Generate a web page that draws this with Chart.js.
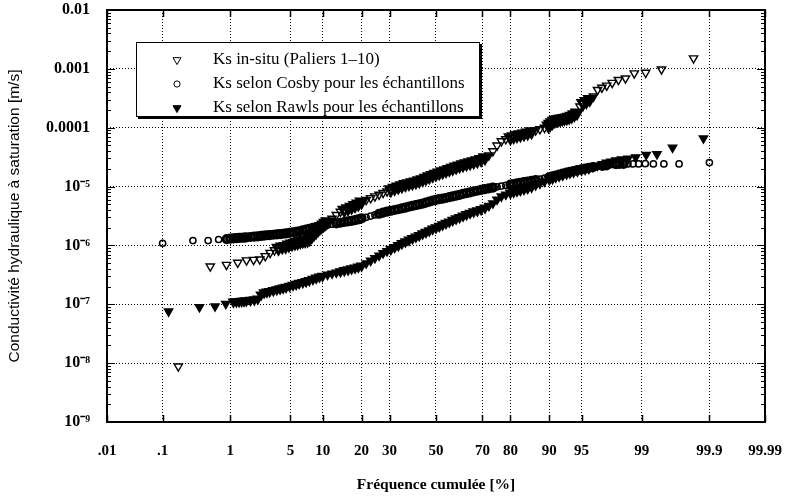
<!DOCTYPE html>
<html><head><meta charset="utf-8">
<script src="https://cdn.jsdelivr.net/npm/chart.js@4.4.0/dist/chart.umd.min.js"></script>
<style>html,body{margin:0;padding:0;background:#fff}#wrap{width:787px;height:500px}</style>
</head><body><div id="wrap"><canvas id="c" width="787" height="500"></canvas></div>
<script>
// ---- axis ticks ----
const xTickPct = [0.01,0.1,1,5,10,20,30,50,70,80,90,95,99,99.9,99.99];
const xTickLabels = ['.01','.1','1','5','10','20','30','50','70','80','90','95','99','99.9','99.99'];
const yTickValues = [1e-9,1e-8,1e-7,1e-6,1e-5,1e-4,1e-3,1e-2];
const yTickLabels = ['10\u207B\u2079','10\u207B\u2078','10\u207B\u2077','10\u207B\u2076','10\u207B\u2075','0.0001','0.001','0.01'];
const seriesLabels = ['Ks in-situ (Paliers 1\u201310)','Ks selon Cosby pour les \u00e9chantillons','Ks selon Rawls pour les \u00e9chantillons'];

// ---- series: cumulative frequency [%] and Ks [m/s] ----
const insituPct = [0.179,0.536,0.893,1.25,1.61,1.96,2.32,2.68,3.04,3.39,3.75,4.11,4.46,4.82,5.18,5.54,5.89,6.25,6.61,6.96,7.32,7.68,8.04,8.39,8.75,9.11,9.46,9.82,10.2,10.6,11,12,13,14,15,16,17,18,19,20,21.5,23,24.5,26,27.5,29,30.5,32,33.5,35,36.5,38,39.5,41,42.5,44,45.5,47,48.5,50,51.5,53,54.5,56,57.5,59,60.5,62,63.5,65,66.5,68,69.5,71,72.5,74,75.5,77,78.5,80,81,82,83,84,85,86,87,88,89,89.82,90.18,90.54,90.89,91.25,91.61,91.96,92.32,92.68,93.04,93.39,93.75,94.11,94.46,94.82,95.18,95.54,95.89,96.25,96.61,96.96,97.32,97.68,98.04,98.39,98.75,99.11,99.46,99.82];
const insituK = [8.8e-9,4.4e-7,4.7e-7,5.1e-7,5.6e-7,5.7e-7,5.8e-7,6.6e-7,7.5e-7,8.3e-7,9.0e-7,9.5e-7,9.7e-7,1.02e-6,1.07e-6,1.10e-6,1.13e-6,1.17e-6,1.20e-6,1.22e-6,1.24e-6,1.30e-6,1.45e-6,1.58e-6,1.70e-6,1.85e-6,2.00e-6,2.12e-6,2.25e-6,2.40e-6,2.55e-6,2.85e-6,3.30e-6,3.75e-6,4.00e-6,4.25e-6,4.50e-6,4.80e-6,5.10e-6,5.50e-6,5.95e-6,6.40e-6,6.85e-6,7.30e-6,7.80e-6,8.30e-6,8.90e-6,9.40e-6,9.90e-6,1.04e-5,1.09e-5,1.13e-5,1.17e-5,1.21e-5,1.26e-5,1.32e-5,1.40e-5,1.48e-5,1.56e-5,1.64e-5,1.72e-5,1.80e-5,1.88e-5,1.97e-5,2.06e-5,2.16e-5,2.26e-5,2.36e-5,2.46e-5,2.56e-5,2.66e-5,2.76e-5,2.90e-5,3.10e-5,3.40e-5,4.00e-5,5.00e-5,5.90e-5,6.40e-5,6.80e-5,7.10e-5,7.40e-5,7.65e-5,7.90e-5,8.20e-5,8.60e-5,9.00e-5,9.50e-5,1.00e-4,1.08e-4,1.15e-4,1.22e-4,1.30e-4,1.35e-4,1.38e-4,1.40e-4,1.42e-4,1.45e-4,1.48e-4,1.52e-4,1.58e-4,1.68e-4,1.80e-4,2.30e-4,2.60e-4,2.80e-4,3.05e-4,3.40e-4,4.40e-4,4.80e-4,5.20e-4,5.80e-4,6.50e-4,6.90e-4,8.40e-4,8.60e-4,9.80e-4,1.51e-3];

const cosbyPct = [0.1,0.3,0.5,0.7,0.9,1.0,1.1,1.2,1.3,1.4,1.5,1.6,1.8,2.0,2.2,2.4,2.6,2.8,3.0,3.3,3.6,3.9,4.2,4.5,4.9,5.3,5.7,6.1,6.6,7.1,7.6,8.2,8.8,9.4,10,11,12,13,14,15,16,17,18,19,20,21.5,23,24.5,26,27.5,29,30.5,32,33.5,35,36.5,38,39.5,41,42.5,44,45.5,47,48.5,50,51.5,53,54.5,56,57.5,59,60.5,62,63.5,65,66.5,68,69.5,71,72.5,74,75.5,77,78.5,80,81,82,83,84,85,86,87,88,89,90,90.6,91.2,91.8,92.4,93,93.5,94,94.5,95,95.4,95.8,96.2,96.6,97,97.3,97.6,97.9,98.1,98.3,98.5,98.7,98.9,99.1,99.3,99.5,99.7,99.9];
const cosbyK = [1.09e-6,1.21e-6,1.21e-6,1.26e-6,1.28e-6,1.30e-6,1.32e-6,1.33e-6,1.34e-6,1.35e-6,1.36e-6,1.37e-6,1.39e-6,1.41e-6,1.43e-6,1.45e-6,1.47e-6,1.49e-6,1.50e-6,1.52e-6,1.54e-6,1.56e-6,1.58e-6,1.60e-6,1.63e-6,1.66e-6,1.70e-6,1.74e-6,1.80e-6,1.86e-6,1.91e-6,1.98e-6,2.05e-6,2.10e-6,2.15e-6,2.22e-6,2.30e-6,2.37e-6,2.43e-6,2.50e-6,2.56e-6,2.62e-6,2.70e-6,2.78e-6,2.88e-6,3.00e-6,3.15e-6,3.30e-6,3.45e-6,3.60e-6,3.75e-6,3.88e-6,4.00e-6,4.12e-6,4.25e-6,4.40e-6,4.55e-6,4.70e-6,4.85e-6,5.00e-6,5.15e-6,5.35e-6,5.55e-6,5.75e-6,5.95e-6,6.10e-6,6.25e-6,6.40e-6,6.60e-6,6.80e-6,7.00e-6,7.25e-6,7.50e-6,7.75e-6,8.00e-6,8.25e-6,8.50e-6,8.80e-6,9.05e-6,9.30e-6,9.60e-6,9.90e-6,1.02e-5,1.05e-5,1.08e-5,1.10e-5,1.13e-5,1.16e-5,1.19e-5,1.22e-5,1.25e-5,1.29e-5,1.34e-5,1.39e-5,1.45e-5,1.49e-5,1.54e-5,1.60e-5,1.66e-5,1.72e-5,1.78e-5,1.84e-5,1.90e-5,1.96e-5,2.02e-5,2.08e-5,2.14e-5,2.20e-5,2.25e-5,2.30e-5,2.35e-5,2.40e-5,2.43e-5,2.43e-5,2.43e-5,2.43e-5,2.43e-5,2.45e-5,2.43e-5,2.43e-5,2.43e-5,2.56e-5];

const rawlsPct = [0.125,0.375,0.625,0.875,1.1,1.2,1.3,1.4,1.5,1.6,1.8,2.0,2.2,2.4,2.6,2.8,3.0,3.3,3.6,3.9,4.2,4.5,4.9,5.3,5.7,6.1,6.6,7.1,7.6,8.2,8.8,9.4,10,11,12,13,14,15,16,17,18,19,20,21.5,23,24.5,26,27.5,29,30.5,32,33.5,35,36.5,38,39.5,41,42.5,44,45.5,47,48.5,50,51.5,53,54.5,56,57.5,59,60.5,62,63.5,65,66.5,68,69.5,71,72.5,74,75.5,77,78.5,80,81,82,83,84,85,86,87,88,89,90,90.6,91.2,91.8,92.4,93,93.5,94,94.5,95,95.4,95.8,96.2,96.6,97,97.3,97.6,97.9,98.2,98.5,98.8,99.125,99.375,99.625,99.875];
const rawlsK = [7.55e-8,8.95e-8,9.2e-8,1.02e-7,1.10e-7,1.11e-7,1.12e-7,1.13e-7,1.14e-7,1.15e-7,1.17e-7,1.20e-7,1.24e-7,1.45e-7,1.58e-7,1.62e-7,1.66e-7,1.72e-7,1.78e-7,1.84e-7,1.90e-7,1.96e-7,2.04e-7,2.12e-7,2.20e-7,2.28e-7,2.36e-7,2.45e-7,2.55e-7,2.68e-7,2.80e-7,2.93e-7,3.02e-7,3.18e-7,3.32e-7,3.46e-7,3.60e-7,3.75e-7,3.88e-7,4.02e-7,4.15e-7,4.30e-7,4.50e-7,4.95e-7,5.50e-7,6.10e-7,6.70e-7,7.40e-7,8.00e-7,8.65e-7,9.30e-7,1.00e-6,1.08e-6,1.16e-6,1.24e-6,1.32e-6,1.40e-6,1.48e-6,1.58e-6,1.68e-6,1.78e-6,1.90e-6,2.00e-6,2.12e-6,2.25e-6,2.38e-6,2.52e-6,2.68e-6,2.85e-6,3.00e-6,3.18e-6,3.36e-6,3.55e-6,3.75e-6,3.90e-6,4.10e-6,4.35e-6,4.70e-6,5.20e-6,6.00e-6,6.80e-6,7.30e-6,7.80e-6,8.10e-6,8.40e-6,8.70e-6,9.00e-6,9.40e-6,9.90e-6,1.05e-5,1.12e-5,1.22e-5,1.32e-5,1.38e-5,1.45e-5,1.52e-5,1.58e-5,1.65e-5,1.72e-5,1.78e-5,1.85e-5,1.92e-5,1.98e-5,2.05e-5,2.14e-5,2.28e-5,2.42e-5,2.55e-5,2.65e-5,2.78e-5,2.90e-5,3.00e-5,3.15e-5,3.45e-5,3.55e-5,4.60e-5,6.60e-5];

// ---- normal probability transform (inverse normal CDF, Acklam) ----
function probit(p){
  const a=[-3.969683028665376e+01,2.209460984245205e+02,-2.759285104469687e+02,1.383577518672690e+02,-3.066479806614716e+01,2.506628277459239e+00];
  const b=[-5.447609879822406e+01,1.615858368580409e+02,-1.556989798598866e+02,6.680131188771972e+01,-1.328068155288572e+01];
  const c=[-7.784894002430293e-03,-3.223964580411365e-01,-2.400758277161838e+00,-2.549732539343734e+00,4.374664141464968e+00,2.938163982698783e+00];
  const d=[7.784695709041462e-03,3.224671290700398e-01,2.445134137142996e+00,3.754408661907416e+00];
  const pl=0.02425, ph=1-pl;
  let q,r;
  if(p<pl){q=Math.sqrt(-2*Math.log(p));return (((((c[0]*q+c[1])*q+c[2])*q+c[3])*q+c[4])*q+c[5])/((((d[0]*q+d[1])*q+d[2])*q+d[3])*q+1);}
  if(p<=ph){q=p-0.5;r=q*q;return (((((a[0]*r+a[1])*r+a[2])*r+a[3])*r+a[4])*r+a[5])*q/(((((b[0]*r+b[1])*r+b[2])*r+b[3])*r+b[4])*r+1);}
  q=Math.sqrt(-2*Math.log(1-p));return -(((((c[0]*q+c[1])*q+c[2])*q+c[3])*q+c[4])*q+c[5])/((((d[0]*q+d[1])*q+d[2])*q+d[3])*q+1);
}
function toPts(pct,k){const n=Math.min(pct.length,k.length);const out=[];for(let i=0;i<n;i++)out.push({x:probit(pct[i]/100),y:k[i]});return out;}

// marker style: heavier/larger where markers crowd together (as in the printed band)
function isCrowded(ctx){
  const d=ctx.dataset&&ctx.dataset.data; const i=ctx.dataIndex;
  if(!d||i==null||!d[i]) return false;
  const p=d[i];
  const dist=q=>q?Math.hypot((q.x-p.x)*88.5,(Math.log10(q.y)-Math.log10(p.y))*58.9):99;
  return Math.min(dist(d[i-1]),dist(d[i+1]))<4.2;
}
const crowd=(thin,thick)=>(ctx)=>isCrowded(ctx)?thick:thin;

const SERIF='"Liberation Serif","Times New Roman",serif';
const SANS='"Liberation Sans",Arial,sans-serif';

const framePlugin={
  id:'frame',
  afterDatasetsDraw(chart){
    const {ctx,chartArea:a,scales:{x,y}}=chart;
    ctx.save();
    ctx.strokeStyle='#000';
    ctx.lineWidth=1;
    for(let e=-9;e<=-2;e++){
      for(let m=1;m<=9;m++){
        const v=m*Math.pow(10,e); if(v>1.0001e-2) break;
        const py=Math.round(y.getPixelForValue(v))+0.5;
        const len=(m===1)?8:4;
        ctx.beginPath();ctx.moveTo(a.left,py);ctx.lineTo(a.left+len,py);
        ctx.moveTo(a.right,py);ctx.lineTo(a.right-len,py);ctx.stroke();
      }
    }
    ctx.lineWidth=1.5;
    xTickPct.forEach(p=>{
      const px=Math.round(x.getPixelForValue(probit(p/100)))+0.5;
      ctx.beginPath();ctx.moveTo(px,a.bottom);ctx.lineTo(px,a.bottom-7);
      ctx.moveTo(px,a.top);ctx.lineTo(px,a.top+7);ctx.stroke();
    });
    ctx.lineWidth=2;
    ctx.strokeRect(a.left,a.top,a.right-a.left,a.bottom-a.top);
    ctx.restore();
  }
};

const legendPlugin={
  id:'boxLegend',
  afterDraw(chart){
    const {ctx,chartArea:a}=chart;
    const bx=a.left+29, by=a.top+32, bw=344, bh=75;
    const legendRadius=[4.6,3.1,4.6];
    ctx.save();
    ctx.fillStyle='#000';
    ctx.fillRect(bx+2,by+2,bw,bh);
    ctx.fillStyle='#fff';
    ctx.fillRect(bx,by,bw,bh);
    ctx.strokeStyle='#000';ctx.lineWidth=1;
    ctx.strokeRect(bx+0.5,by+0.5,bw-1,bh-1);
    chart.data.datasets.forEach((ds,i)=>{
      const cy=by+18+i*24;
      ctx.save();
      ctx.fillStyle=ds.backgroundColor;ctx.strokeStyle=ds.borderColor;
      Chart.helpers.drawPoint(ctx,{pointStyle:ds.pointStyle,rotation:ds.rotation||0,radius:legendRadius[i],borderWidth:1.3},bx+41,cy);
      ctx.restore();
      ctx.fillStyle='#000';ctx.font='17px '+SERIF;ctx.textBaseline='middle';ctx.textAlign='left';
      ctx.fillText(ds.label,bx+77,cy);
    });
    ctx.restore();
  }
};

new Chart(document.getElementById('c').getContext('2d'),{
  type:'scatter',
  data:{datasets:[
    {label:seriesLabels[0],data:toPts(insituPct,insituK),pointStyle:'triangle',rotation:180,pointRadius:crowd(4.8,5.6),borderWidth:crowd(1.4,3),borderColor:'#000',backgroundColor:'rgba(0,0,0,0)'},
    {label:seriesLabels[1],data:toPts(cosbyPct,cosbyK),pointStyle:'circle',pointRadius:crowd(3.1,3.6),borderWidth:crowd(1.5,3),borderColor:'#000',backgroundColor:'rgba(0,0,0,0)'},
    {label:seriesLabels[2],data:toPts(rawlsPct,rawlsK),pointStyle:'triangle',rotation:180,pointRadius:crowd(4.8,5.4),borderWidth:1.4,borderColor:'#000',backgroundColor:'#000'}
  ]},
  options:{
    responsive:false,animation:false,devicePixelRatio:1,
    layout:{padding:{left:0,top:10,right:22,bottom:0}},
    plugins:{legend:{display:false},tooltip:{enabled:false}},
    scales:{
      x:{type:'linear',min:probit(0.0001),max:probit(0.9999),
        afterBuildTicks:s=>{s.ticks=xTickPct.map(p=>({value:probit(p/100)}));},
        afterFit:s=>{s.height=78;s.paddingLeft=0;s.paddingRight=0;},
        ticks:{autoSkip:false,maxRotation:0,padding:20,color:'#000',font:{family:SERIF,size:15,weight:'bold'},callback:(v,i)=>xTickLabels[i]},
        grid:{color:'#000',lineWidth:1,drawTicks:false},
        border:{display:false,dash:[1,2]},
        title:{display:true,text:'Fr\u00e9quence cumul\u00e9e [%]',color:'#000',font:{family:SERIF,size:15.5,weight:'bold'},padding:{top:0,bottom:6}}
      },
      y:{type:'logarithmic',min:1e-9,max:1e-2,
        afterBuildTicks:s=>{s.ticks=yTickValues.map(v=>({value:v}));},
        afterFit:s=>{s.width=107;s.paddingTop=0;s.paddingBottom=0;},
        ticks:{autoSkip:false,padding:17,color:'#000',font:{family:SERIF,size:16,weight:'bold'},callback:(v,i)=>yTickLabels[i]},
        grid:{color:'#000',lineWidth:1,drawTicks:false},
        border:{display:false,dash:[1,2]},
        title:{display:true,text:'Conductivit\u00e9 hydraulique \u00e0 saturation [m/s]',color:'#000',font:{family:SANS,size:15.5},padding:{top:5,bottom:0}}
      }
    }
  },
  plugins:[framePlugin,legendPlugin]
});
</script></body></html>
